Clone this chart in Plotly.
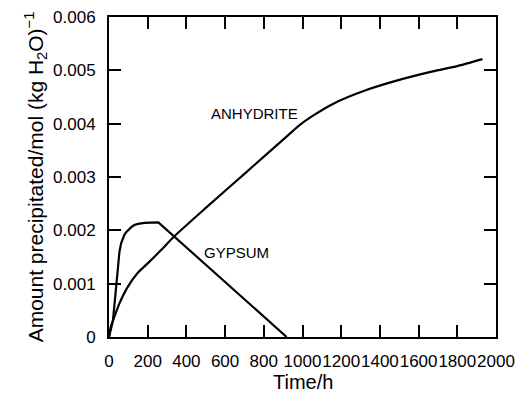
import plotly.graph_objects as go

# Data
gypsum_t = [0, 20, 37, 54, 63, 71, 80, 90, 100, 115, 131, 150, 183, 220, 255, 918]
gypsum_v = [0, 0.00030, 0.00094, 0.00160, 0.00176, 0.00185, 0.00192, 0.00197, 0.00201,
            0.00206, 0.00210, 0.00212, 0.00214, 0.00215, 0.00215, 0]

anhydrite_t = [0, 10, 28, 54, 97, 148, 200, 269, 335, 500, 700, 900, 980, 1050, 1157, 1330, 1500, 1673, 1800, 1930]
anhydrite_v = [0, 0.00020, 0.00038, 0.00063, 0.00094, 0.00120, 0.00138, 0.00163, 0.00188, 0.00242,
               0.00306, 0.00370, 0.00396, 0.00414, 0.00437, 0.00463, 0.00482, 0.00498, 0.00508, 0.00521]

x_ticks = [0, 200, 400, 600, 800, 1000, 1200, 1400, 1600, 1800, 2000]
x_ticktext = [str(v) for v in x_ticks]
y_ticks = [0, 0.001, 0.002, 0.003, 0.004, 0.005, 0.006]
y_ticktext = ["0", "0.001", "0.002", "0.003", "0.004", "0.005", "0.006"]

labels = [("ANHYDRITE", 753, 0.0042), ("GYPSUM", 660, 0.00158)]

tick_font = dict(family="Liberation Sans, Arial, sans-serif", size=17, color="black")
title_font = dict(family="Liberation Sans, Arial, sans-serif", size=20, color="black")

fig = go.Figure()
fig.add_trace(go.Scatter(x=gypsum_t, y=gypsum_v, mode="lines",
                         line=dict(color="black", width=2.2),
                         showlegend=False, hoverinfo="skip"))
fig.add_trace(go.Scatter(x=anhydrite_t, y=anhydrite_v, mode="lines",
                         line=dict(color="black", width=2.2, shape="spline", smoothing=0.6),
                         showlegend=False, hoverinfo="skip"))

for text, x, y in labels:
    fig.add_annotation(x=x, y=y, text=text, showarrow=False,
                       font=dict(family="Liberation Sans, Arial, sans-serif", size=15, color="black"))

# x-axis title placed as a paper-anchored annotation for exact vertical position
fig.add_annotation(x=0.5, y=-0.141, xref="paper", yref="paper", text="Time/h",
                   showarrow=False, xanchor="center", yanchor="middle", font=title_font)

fig.update_xaxes(range=[0, 2000], tickvals=x_ticks, ticktext=x_ticktext, tickangle=0,
                 ticks="inside", ticklen=12, tickwidth=2, tickcolor="black",
                 showline=True, linewidth=2, linecolor="black", mirror="ticks",
                 showgrid=False, zeroline=False, tickfont=tick_font,
                 ticklabelstandoff=8, automargin=False)
fig.update_yaxes(range=[0, 0.006], tickvals=y_ticks, ticktext=y_ticktext,
                 ticks="inside", ticklen=12, tickwidth=2, tickcolor="black",
                 showline=True, linewidth=2, linecolor="black", mirror="ticks",
                 showgrid=False, zeroline=False, tickfont=tick_font,
                 ticklabelstandoff=8, automargin=False,
                 title=dict(text="Amount precipitated/mol (kg H<sub>2</sub>O)<sup>−1</sup>",
                            font=dict(family="Liberation Sans, Arial, sans-serif", size=21, color="black"),
                            standoff=4))

fig.update_layout(width=529, height=401, margin=dict(l=109, r=33, t=17, b=64),
                  plot_bgcolor="white", paper_bgcolor="white")

fig.write_html("out.html", config={"displayModeBar": False},
               post_script="document.body.style.margin='0';document.body.style.padding='0';")
